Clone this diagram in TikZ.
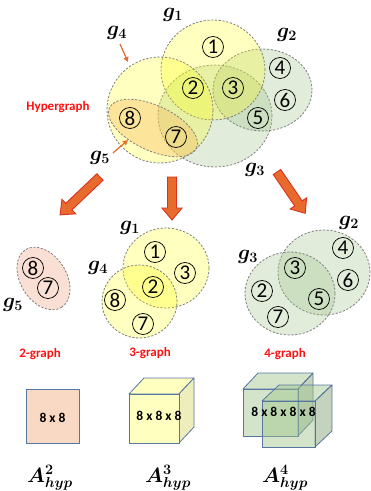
\documentclass[tikz,border=0pt]{standalone}
\usepackage{fontspec}
\setsansfont{Carlito}
\usepackage{bm}
\usetikzlibrary{shapes.geometric,arrows.meta}

\definecolor{setyellow}{HTML}{FFFF00}
\definecolor{setgreen}{HTML}{9CC084}
\definecolor{setorange}{HTML}{F7B25A}
\definecolor{setpink}{HTML}{F4B8A0}
\definecolor{rimgray}{HTML}{7F7F7F}
\definecolor{arrowfill}{HTML}{E86A2C}
\definecolor{arrowrim}{HTML}{D8331F}
\definecolor{boxrim}{HTML}{5676A0}
\definecolor{labelred}{HTML}{FF1010}
\definecolor{peach}{HTML}{F9D8C4}
\definecolor{cubeyellow}{HTML}{FFFFC0}
\definecolor{cubeside}{HTML}{EEEEBC}
\definecolor{cubegreen}{HTML}{9DC38A}

\tikzset{
  hedge/.style={ellipse, draw=rimgray, dash pattern=on 2.2pt off 1.6pt,
    line width=0.8pt, inner sep=0pt},
  yellowedge/.style={hedge, fill=setyellow, fill opacity=0.25, draw opacity=1},
  greenedge/.style={hedge, fill=setgreen, fill opacity=0.3, draw opacity=1},
  orangeedge/.style={hedge, fill=setorange, fill opacity=0.35, draw opacity=1},
  pinkedge/.style={hedge, fill=setpink, fill opacity=0.45, draw opacity=1},
  vnode/.style={circle, draw=black, line width=0.75pt, minimum size=21pt,
    inner sep=0pt, font=\sffamily\fontsize{21}{21}\selectfont},
  glabel/.style={inner sep=0pt, font=\fontsize{20}{20}\selectfont},
  kind/.style={inner sep=0pt, text=labelred,
    font=\sffamily\bfseries\fontsize{13}{13}\selectfont},
  dims/.style={inner sep=0pt, font=\sffamily\bfseries\fontsize{13.5}{13.5}\selectfont},
  tensor/.style={inner sep=0pt, font=\fontsize{20}{20}\selectfont},
  arrowbody/.style={fill=arrowfill, draw=arrowrim, line width=0.9pt, line join=miter},
  pointer/.style={draw=arrowfill, line width=1.2pt,
    -{Triangle[length=5pt,width=5pt]}},
  cubeface/.style={draw=boxrim, line width=0.8pt, line join=round},
  pics/blockarrow/.style={code={
    \draw[arrowbody] (0,-4.5) -- ({#1-12},-4.5) -- ({#1-12},-10) -- (#1,0)
      -- ({#1-12},10) -- ({#1-12},4.5) -- (0,4.5) -- cycle;}}
}

\begin{document}
\begin{tikzpicture}[x=1pt, y=-1pt]
\useasboundingbox (0,0) rectangle (371,491);

% ---------- hypergraph ----------
\node[greenedge, minimum width=114pt, minimum height=102pt] (h3) at (215,116) {};
\node[greenedge, minimum width=99pt, minimum height=82pt] (h2) at (262.5,90) {};
\node[yellowedge, minimum width=104pt, minimum height=100pt] (h1) at (213,70) {};
\node[yellowedge, minimum width=106pt, minimum height=106pt] (h4) at (160,110) {};
\node[orangeedge, minimum width=96pt, minimum height=45pt, rotate=-25] (h5) at (153,128) {};

\node[vnode] (t1) at (213,47) {1};
\node[vnode] (t2) at (193,88) {2};
\node[vnode] (t3) at (233,88) {3};
\node[vnode] (t4) at (280,68) {4};
\node[vnode] (t5) at (258,118) {5};
\node[vnode] (t6) at (285,100) {6};
\node[vnode] (t7) at (176,137) {7};
\node[vnode] (t8) at (130,118) {8};

\node[glabel] (lg1) at (173,15) {$\bm{g_1}$};
\node[glabel] (lg2) at (287,35) {$\bm{g_2}$};
\node[glabel] (lg3) at (255,170) {$\bm{g_3}$};
\node[glabel] (lg4) at (117,33) {$\bm{g_4}$};
\node[glabel] (lg5) at (100,158) {$\bm{g_5}$};
\node[kind] (hyper) at (58,107) {Hypergraph};

\coordinate (p4s) at (120,44);
\coordinate (p4e) at (128,62);
\coordinate (p5s) at (113,153);
\coordinate (p5e) at (128,140);
\draw[pointer] (p4s) -- (p4e);
\draw[pointer] (p5s) -- (p5e);

% ---------- split arrows ----------
\coordinate (aL) at (100,177);
\coordinate (aM) at (172,177);
\coordinate (aR) at (277,172);
\pic[rotate=223.5] at (aL) {blockarrow=55};
\pic[rotate=-90] at (aM) {blockarrow=43};
\pic[rotate=-55.7] at (aR) {blockarrow=50};

% ---------- 2-graph ----------
\node[pinkedge, minimum width=68pt, minimum height=46pt, rotate=-58] (b5) at (43.5,278.5) {};
\node[vnode] (b8) at (33,268) {8};
\node[vnode] (b7) at (48,288) {7};
\node[glabel] (lb5) at (13,305) {$\bm{g_5}$};
\node[kind] (k2) at (40,354) {2-graph};

% ---------- 3-graph ----------
\node[yellowedge, minimum width=86pt, minimum height=80pt] (c1) at (166,268) {};
\node[yellowedge, minimum width=75pt, minimum height=73pt] (c4) at (139.5,301.5) {};
\node[vnode] (c1n) at (155,252) {1};
\node[vnode] (c3n) at (185,273) {3};
\node[vnode] (c2n) at (153,287) {2};
\node[vnode] (c8n) at (115,300) {8};
\node[vnode] (c7n) at (143,324) {7};
\node[glabel] (lc1) at (130,228) {$\bm{g_1}$};
\node[glabel] (lc4) at (98,268) {$\bm{g_4}$};
\node[kind] (k3) at (150,353) {3-graph};

% ---------- 4-graph ----------
\node[greenedge, minimum width=92pt, minimum height=85pt] (d2) at (324,272.5) {};
\node[greenedge, minimum width=90pt, minimum height=83pt] (d3) at (290,293.5) {};
\node[vnode] (d4n) at (343,248) {4};
\node[vnode] (d3n) at (295,268) {3};
\node[vnode] (d6n) at (348,280) {6};
\node[vnode] (d2n) at (262,291) {2};
\node[vnode] (d5n) at (319,299) {5};
\node[vnode] (d7n) at (278,317) {7};
\node[glabel] (ld2) at (349,223) {$\bm{g_2}$};
\node[glabel] (ld3) at (248,257) {$\bm{g_3}$};
\node[kind] (k4) at (285,354) {4-graph};

% ---------- adjacency tensors ----------
% 2-order: a square
\draw[cubeface, fill=peach] (26,389) rectangle (79,443);
\node[dims] (m2) at (52.5,418) {8 x 8};

% 3-order: a cube
\draw[cubeface, fill=cubeyellow] (129,394) -- (144,378) -- (194,378) -- (179,394) -- cycle;
\draw[cubeface, fill=cubeside] (179,394) -- (194,378) -- (194,427) -- (179,443) -- cycle;
\draw[cubeface, fill=cubeyellow] (129,394) rectangle (179,443);
\node[dims] (m3) at (159,416) {8 x 8 x 8};

% 4-order: two see-through cubes
\begin{scope}[fill opacity=0.45]
\draw[cubeface, fill=cubegreen] (243,389) -- (258,373) -- (313,373) -- (298,389) -- cycle;
\draw[cubeface, fill=cubegreen!80!black] (298,389) -- (313,373) -- (313,420) -- (298,436) -- cycle;
\draw[cubeface, fill=cubegreen] (243,389) rectangle (298,436);
\draw[cubeface, fill=cubegreen] (262,401) -- (279,385) -- (332,385) -- (315,401) -- cycle;
\draw[cubeface, fill=cubegreen!80!black] (315,401) -- (332,385) -- (332,431) -- (315,447) -- cycle;
\draw[cubeface, fill=cubegreen] (262,401) rectangle (315,447);
\end{scope}
\node[dims] (m4) at (283.5,412) {8 x 8 x 8 x 8};

\node[tensor] (A2) at (50,478) {$\bm{A^{2}_{hyp}}$};
\node[tensor] (A3) at (168,478) {$\bm{A^{3}_{hyp}}$};
\node[tensor] (A4) at (285,478) {$\bm{A^{4}_{hyp}}$};
\end{tikzpicture}
\end{document}
